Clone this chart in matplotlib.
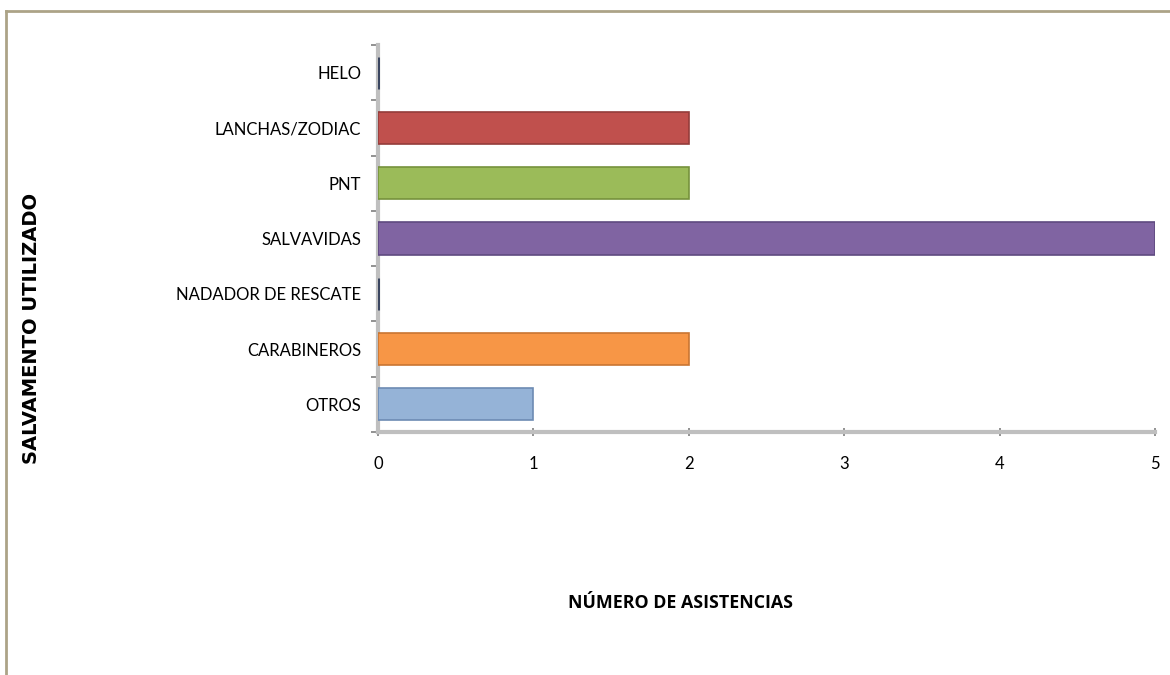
import matplotlib
matplotlib.use("Agg")
import matplotlib.pyplot as plt
from matplotlib.lines import Line2D

# data, bottom to top
categorias = ["OTROS", "CARABINEROS", "NADADOR DE RESCATE", "SALVAVIDAS",
              "PNT", "LANCHAS/ZODIAC", "HELO"]
asistencias = [1, 2, 0, 5, 2, 2, 0]
colores = ["#95b3d7", "#f79646", "#4a5a78", "#8064a2", "#9bbb59", "#c0504d", "#4a5a78"]
bordes = ["#6d8bb3", "#c97532", "#3a4660", "#5f4a80", "#76923c", "#943c3a", "#3a4660"]
xticks = [0, 1, 2, 3, 4, 5]

plt.rcParams['font.family'] = ['Lato', 'DejaVu Sans']

fig = plt.figure(figsize=(11.7, 6.75), dpi=100)
ax = fig.add_axes([378/1170, 1 - 432/675, 777/1170, 387/675])

pos = list(range(len(categorias)))
for i, v in enumerate(asistencias):
    lw = 2.2 if v == 0 else 1.2
    ax.barh(pos[i], v, height=0.58, color=colores[i], edgecolor=bordes[i], linewidth=lw, zorder=3)

ax.set_xlim(0, 5)
ax.set_ylim(-0.5, len(categorias) - 0.5)
ax.set_xticks(xticks)
ax.set_xticklabels([str(t) for t in xticks], fontsize=12)
ax.set_yticks(pos)
ax.set_yticklabels(categorias, fontsize=12)
ax.set_yticks([p - 0.5 for p in pos] + [len(categorias) - 0.5], minor=True)
ax.tick_params(axis='y', which='major', length=0, pad=12)
ax.tick_params(axis='y', which='minor', length=5, width=1.2, color='#7f7f7f', direction='out')
ax.tick_params(axis='x', which='major', length=6, width=1.2, color='#7f7f7f', direction='inout', pad=14)

for s in ['top', 'right']:
    ax.spines[s].set_visible(False)
for s in ['left', 'bottom']:
    ax.spines[s].set_color('#bfbfbf')
    ax.spines[s].set_linewidth(3)

fig.text(680/1170, 1 - 603/675, "NÚMERO DE ASISTENCIAS", ha='center', va='center',
         fontsize=12.8, fontweight='bold', family=['Open Sans', 'DejaVu Sans'])
fig.text(32/1170, 1 - 328/675, "SALVAMENTO UTILIZADO", ha='center', va='center',
         rotation=90, fontsize=14, fontweight='bold', family=['DejaVu Sans'])

# chart frame
fig.add_artist(Line2D([6/1170, 6/1170], [0, 1 - 11/675], transform=fig.transFigure,
                      color='#aca387', linewidth=2))
fig.add_artist(Line2D([6/1170, 1], [1 - 11/675, 1 - 11/675], transform=fig.transFigure,
                      color='#aca387', linewidth=2))

fig.savefig("out.png", dpi=100)
